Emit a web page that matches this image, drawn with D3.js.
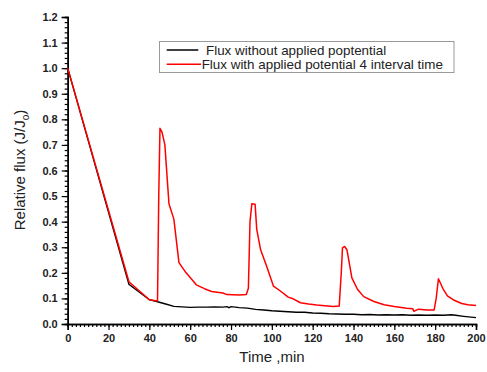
<!DOCTYPE html>
<html>
<head>
<meta charset="utf-8">
<script src="https://cdn.jsdelivr.net/npm/d3@7"></script>
<style>
  body { margin: 0; background: #fff; }
  svg { display: block; font-family: "Liberation Sans", Arial, sans-serif; }
</style>
</head>
<body>
<div id="chart"></div>
<script>
// time (min) and relative flux
var blackTime = [0, 30, 40, 44, 48, 52, 56, 60, 64, 68, 72, 76, 78, 79, 80, 84, 88, 92, 96, 100,
  104, 108, 112, 116, 120, 124, 128, 132, 136, 140, 144, 148, 152, 156, 160, 164, 168, 172,
  176, 180, 184, 188, 190, 194, 200];
var blackFlux = [1.0, 0.155, 0.095, 0.087, 0.078, 0.069, 0.067, 0.065, 0.066, 0.066, 0.067, 0.066,
  0.068, 0.064, 0.068, 0.064, 0.062, 0.057, 0.055, 0.052, 0.050, 0.048, 0.046, 0.046, 0.043,
  0.042, 0.040, 0.039, 0.038, 0.038, 0.036, 0.037, 0.035, 0.036, 0.035, 0.036, 0.034, 0.035,
  0.034, 0.035, 0.034, 0.036, 0.034, 0.030, 0.025];

var redTime = [0, 30, 40, 44, 44.6, 45.2, 46.2, 47.6, 49.6, 52, 54.5, 58, 63, 67, 70.5, 76, 78,
  84, 87.5, 88.5, 89.3, 90.2, 91.8, 92.6, 94.5, 97.5, 100.8, 104, 108, 110, 114, 118, 122, 126,
  130, 133, 134, 134.6, 135.6, 136.8, 139.2, 142, 145, 150, 155, 160, 166, 169, 169.5, 172, 176,
  179.5, 180.5, 181.6, 184, 186, 189, 193, 196, 200];
var redFlux = [1.0, 0.165, 0.095, 0.09, 0.50, 0.765, 0.75, 0.70, 0.47, 0.41, 0.24, 0.20, 0.153,
  0.138, 0.127, 0.121, 0.115, 0.113, 0.115, 0.14, 0.40, 0.47, 0.468, 0.37, 0.29, 0.225, 0.148,
  0.130, 0.105, 0.100, 0.083, 0.078, 0.074, 0.071, 0.068, 0.070, 0.20, 0.298, 0.303, 0.29,
  0.18, 0.135, 0.107, 0.088, 0.075, 0.068, 0.062, 0.060, 0.050, 0.058, 0.055, 0.055, 0.10,
  0.177, 0.135, 0.11, 0.094, 0.080, 0.075, 0.072];

var xTicks = [0, 20, 40, 60, 80, 100, 120, 140, 160, 180, 200];
var yTicks = [0.0, 0.1, 0.2, 0.3, 0.4, 0.5, 0.6, 0.7, 0.8, 0.9, 1.0, 1.1, 1.2];

var legendLabels = ["Flux without applied poptential", "Flux with applied potential 4 interval time"];
var seriesColors = ["#000000", "#ff0000"];

function init() {
    var w = 487, h = 372;

    var svg = d3.select("#chart").append("svg")
        .attr("width", w)
        .attr("height", h);

    var xScale = d3.scaleLinear().domain([0, 200]).range([67.7, 476]);
    var yScale = d3.scaleLinear().domain([0, 1.2]).range([324, 17]);

    // minor ticks first, major on top
    var xAxisMinor = d3.axisBottom(xScale).ticks(100).tickSize(3).tickFormat("");
    var yAxisMinor = d3.axisLeft(yScale).tickValues(d3.range(0, 1.2001, 0.02)).tickSize(3).tickFormat("");

    var xAxis = d3.axisBottom(xScale).tickValues(xTicks).tickSize(6).tickPadding(4)
        .tickFormat(d3.format("d"));
    var yAxis = d3.axisLeft(yScale).tickValues(yTicks).tickSize(6).tickPadding(4)
        .tickFormat(d3.format(".1f"));

    function styleAxis(g) {
        g.select(".domain").attr("stroke", "#000").attr("stroke-width", 1.5);
        g.selectAll(".tick line").attr("stroke", "#000").attr("stroke-width", 1.2);
        g.selectAll("text").attr("font-size", "11px").attr("font-weight", "bold")
            .attr("fill", "#222")
            .attr("font-family", "Liberation Sans, Arial, sans-serif");
    }

    svg.append("g").attr("transform", "translate(0,324)").call(xAxisMinor).call(styleAxis);
    svg.append("g").attr("transform", "translate(67.7,0)").call(yAxisMinor).call(styleAxis);
    svg.append("g").attr("transform", "translate(0,324)").call(xAxis).call(styleAxis);
    svg.append("g").attr("transform", "translate(67.7,0)").call(yAxis).call(styleAxis);

    var line = d3.line()
        .x(d => xScale(d[0]))
        .y(d => yScale(d[1]));

    var blackData = blackTime.map((t, i) => [t, blackFlux[i]]);
    var redData = redTime.map((t, i) => [t, redFlux[i]]);

    svg.append("path").datum(blackData)
        .attr("d", line)
        .attr("fill", "none")
        .attr("stroke", seriesColors[0])
        .attr("stroke-width", 1.4);

    svg.append("path").datum(redData)
        .attr("d", line)
        .attr("fill", "none")
        .attr("stroke", seriesColors[1])
        .attr("stroke-width", 1.5)
        .attr("stroke-linejoin", "round");

    // axis titles
    svg.append("text")
        .attr("x", 272)
        .attr("y", 362)
        .attr("text-anchor", "middle")
        .attr("font-size", "15px")
        .attr("fill", "#222")
        .text("Time ,min");

    var yTitle = svg.append("text")
        .attr("transform", "translate(25,170) rotate(-90)")
        .attr("text-anchor", "middle")
        .attr("font-size", "15px")
        .attr("fill", "#222");
    yTitle.append("tspan").text("Relative flux (J/J");
    yTitle.append("tspan").attr("font-size", "10px").attr("dy", 4).text("o");
    yTitle.append("tspan").attr("dy", -4).text(")");

    // legend
    var legend = svg.append("g");
    legend.append("rect")
        .attr("x", 159.5).attr("y", 41.5)
        .attr("width", 294.5).attr("height", 31)
        .attr("fill", "#fff")
        .attr("stroke", "#999")
        .attr("stroke-width", 1);

    var rows = [
        {y: 50, x1: 166.7, x2: 198.3, tx: 206},
        {y: 64.3, x1: 166.7, x2: 201, tx: 201.7}
    ];
    rows.forEach((r, i) => {
        legend.append("line")
            .attr("x1", r.x1).attr("x2", r.x2)
            .attr("y1", r.y).attr("y2", r.y)
            .attr("stroke", seriesColors[i])
            .attr("stroke-width", 1.5);
        legend.append("text")
            .attr("x", r.tx).attr("y", r.y + 4.8)
            .attr("font-size", "13.4px")
            .attr("fill", "#222")
            .text(legendLabels[i]);
    });
}

window.onload = init;
</script>
</body>
</html>
